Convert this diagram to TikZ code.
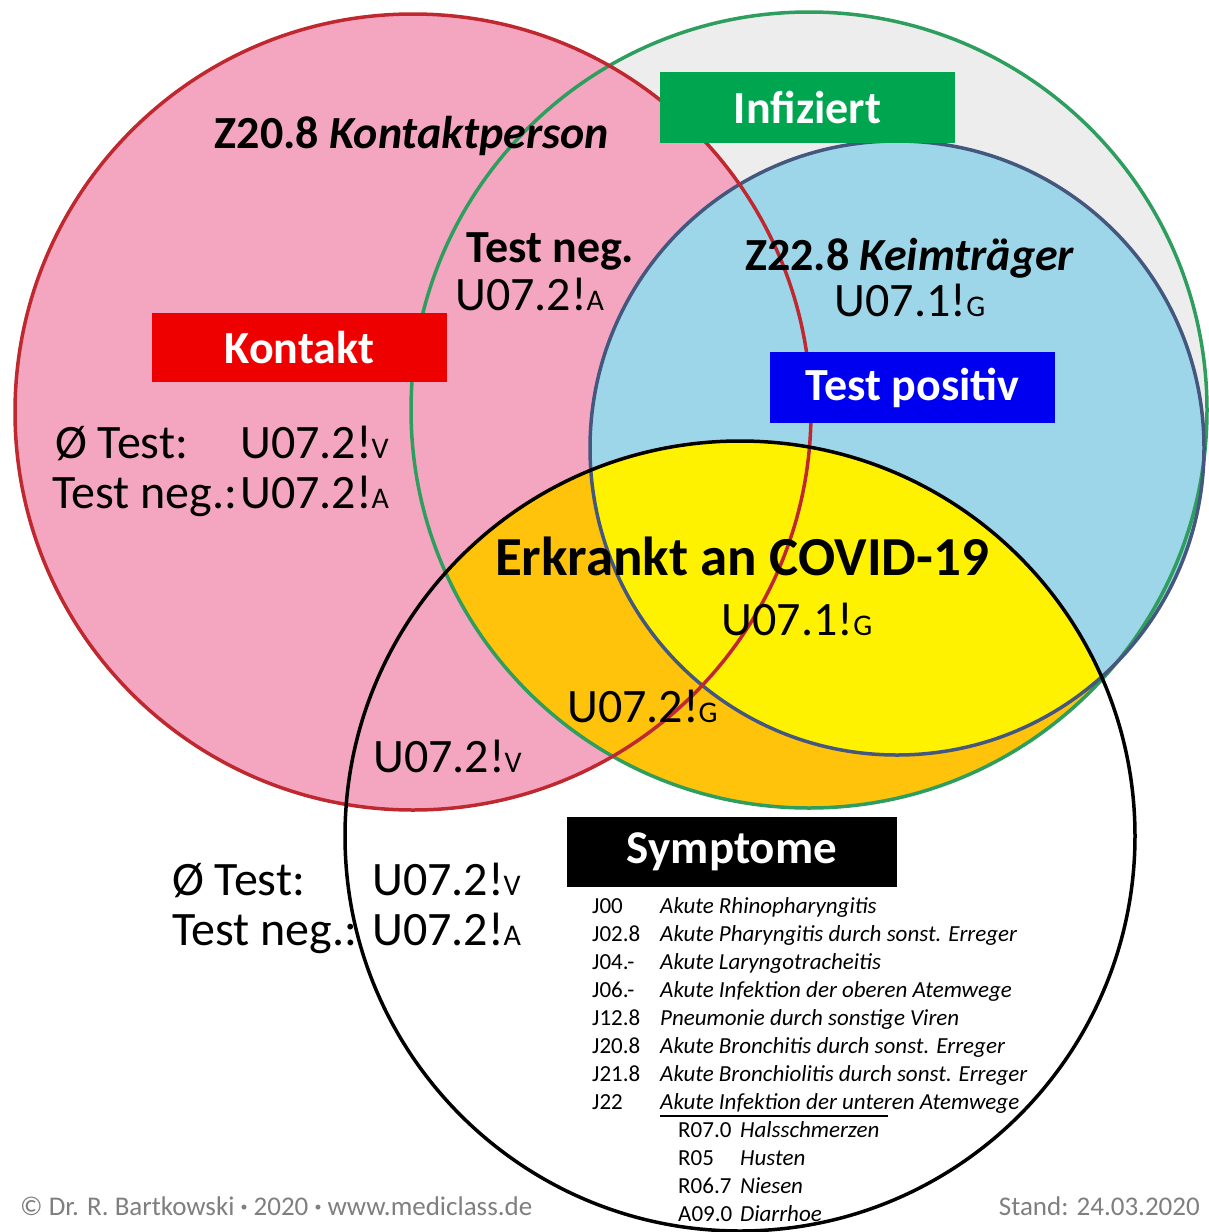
\documentclass[tikz,border=0pt]{standalone}
\usepackage{fontspec}
\setmainfont{Carlito}
\definecolor{pinkfill}{HTML}{F4A6C0}
\definecolor{grayfill}{HTML}{EDEDED}
\definecolor{bluefill}{HTML}{9DD6E9}
\definecolor{yellowfill}{HTML}{FFF200}
\definecolor{orangefill}{HTML}{FFC30B}
\definecolor{redline}{HTML}{C0282F}
\definecolor{greenline}{HTML}{2E9E5E}
\definecolor{blueline}{HTML}{44587F}
\definecolor{kontaktbox}{HTML}{EE0000}
\definecolor{infbox}{HTML}{00A64F}
\definecolor{posbox}{HTML}{0000F0}
\definecolor{footgray}{HTML}{7F7F7F}
\newcommand{\fs}[1]{\fontsize{#1}{#1}\selectfont}
\newcommand{\smc}[1]{{\fs{30}#1}}
\newcommand{\fdot}{\raisebox{0.25ex}{\fs{14}•}}
\begin{document}
\begin{tikzpicture}[x=1pt,y=-1pt,
  labelbox/.style={draw=none,inner sep=0pt,text=white,font=\fs{46}\bfseries},
  hdr/.style={inner sep=0pt,font=\fs{46}\bfseries},
  code/.style={inner sep=0pt,font=\fs{48}},
  lst/.style={inner sep=0pt,font=\fs{23},anchor=base west},
  lsti/.style={inner sep=0pt,font=\fs{23}\itshape,anchor=base west},
  foot/.style={inner sep=0pt,font=\fs{27},text=footgray},
  ring/.style={line width=3.5pt}]
\useasboundingbox (0,0) rectangle (1209,1232);
\fill[white] (0,0) rectangle (1209,1232);
\coordinate (cr) at (413,412);
\coordinate (cg) at (809,410);
\coordinate (cb) at (897,448);
\coordinate (ck) at (740,836);
% fills
\fill[grayfill] (cg) circle[radius=398pt];
\fill[pinkfill] (cr) circle[radius=398pt];
\fill[bluefill] (cb) circle[radius=307pt];
\begin{scope}
  \clip (ck) circle[radius=395pt];
  \fill[orangefill] (cg) circle[radius=398pt];
  \fill[yellowfill] (cb) circle[radius=307pt];
\end{scope}
% outlines
\draw[greenline,ring] (cg) circle[radius=398pt];
\draw[blueline,ring] (cb) circle[radius=307pt];
\draw[redline,ring] (cr) circle[radius=398pt];
\draw[black,ring] (ck) circle[radius=395pt];
% label boxes
\node[labelbox,fill=kontaktbox,minimum width=295pt,minimum height=69pt] (kontakt) at (299.5,347.5) {Kontakt};
\node[labelbox,fill=infbox,minimum width=295pt,minimum height=71pt] (infiziert) at (807.5,107.5) {Infiziert};
\node[labelbox,fill=posbox,minimum width=285pt,minimum height=71pt] (positiv) at (912.5,387.5) {Test positiv};
\node[labelbox,fill=black,minimum width=330pt,minimum height=70pt,font=\fs{47}\bfseries] (symptome) at (732,852) {Symptome};
% texts
\node[hdr,anchor=base] (kp) at (412,148) {Z20.8 \textit{Kontaktperson}};
\node[hdr,anchor=base west] (tn) at (466,262) {Test neg.};
\node[code,anchor=base west] (tnc) at (455,310) {U07.2!\smc{A}};
\node[hdr,anchor=base] (kt) at (910,270) {Z22.8 \textit{Keimträger}};
\node[code,anchor=base] (ktc) at (910,316) {U07.1!\smc{G}};
\node[code,anchor=base west] (l1a) at (55,458) {Ø Test:};
\node[code,anchor=base west] (l1b) at (240,458) {U07.2!\smc{V}};
\node[code,anchor=base west] (l2a) at (52,508) {Test neg.:};
\node[code,anchor=base west] (l2b) at (240,508) {U07.2!\smc{A}};
\node[hdr,anchor=base,font=\fs{55}\bfseries] (erk) at (742,575) {Erkrankt an COVID-19};
\node[code,anchor=base] (erkc) at (797,635) {U07.1!\smc{G}};
\node[code,anchor=base west] (g2) at (567,722) {U07.2!\smc{G}};
\node[code,anchor=base west] (v2) at (373,772) {U07.2!\smc{V}};
\node[code,anchor=base west] (l3a) at (172,895) {Ø Test:};
\node[code,anchor=base west] (l3b) at (372,895) {U07.2!\smc{V}};
\node[code,anchor=base west] (l4a) at (172,945) {Test neg.:};
\node[code,anchor=base west] (l4b) at (372,945) {U07.2!\smc{A}};
% symptom list
\foreach \c/\d [count=\i from 0] in {J00/Akute Rhinopharyngitis,J02.8/Akute Pharyngitis durch sonst. Erreger,J04.-/Akute Laryngotracheitis,J06.-/Akute Infektion der oberen Atemwege,J12.8/Pneumonie durch sonstige Viren,J20.8/Akute Bronchitis durch sonst. Erreger,J21.8/Akute Bronchiolitis durch sonst. Erreger,J22/Akute Infektion der unteren Atemwege}{
  \node[lst] (jc\i) at (592,913+28*\i) {\c};
  \node[lsti] (jd\i) at (660,913+28*\i) {\d};
}
\coordinate (ul1) at (660,1116);
\coordinate (ul2) at (888,1116);
\draw[black,line width=1.2pt] (ul1) -- (ul2);
\foreach \c/\d [count=\i from 0] in {R07.0/Halsschmerzen,R05/Husten,R06.7/Niesen,A09.0/Diarrhoe}{
  \node[lst] (rc\i) at (678,1137+28*\i) {\c};
  \node[lsti] (rd\i) at (740,1137+28*\i) {\d};
}
% footer
\node[foot,anchor=base west] (copy) at (20,1215) {© Dr. R. Bartkowski \fdot{} 2020 \fdot{} www.mediclass.de};
\node[foot,anchor=base east] (stand) at (1200,1215) {Stand: 24.03.2020};
\end{tikzpicture}
\end{document}
